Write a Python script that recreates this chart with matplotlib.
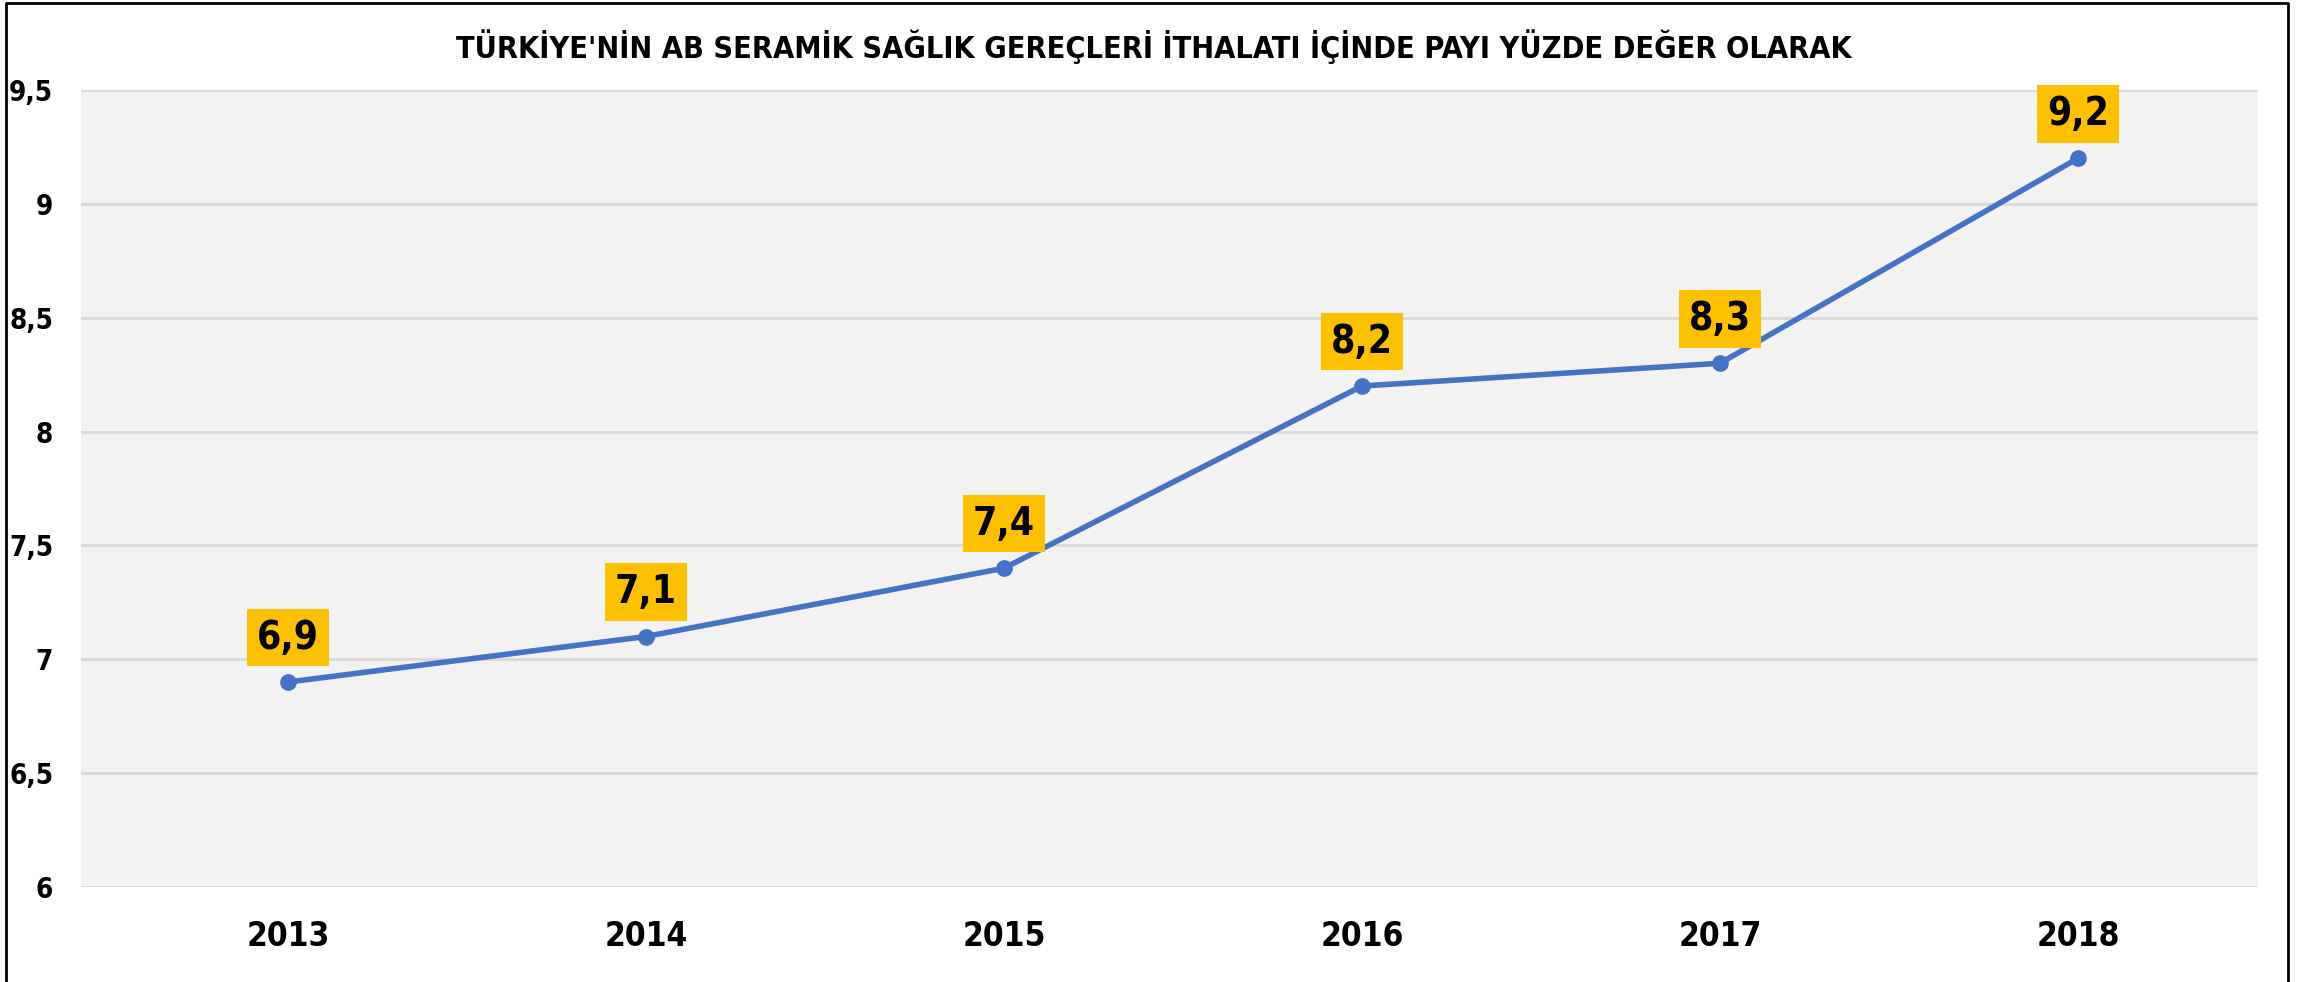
import matplotlib
matplotlib.use('Agg')
import matplotlib.pyplot as plt
from matplotlib.lines import Line2D

years = ['2013', '2014', '2015', '2016', '2017', '2018']
share = [6.9, 7.1, 7.4, 8.2, 8.3, 9.2]
yticks = [6, 6.5, 7, 7.5, 8, 8.5, 9, 9.5]
ytick_labels = ['6', '6,5', '7', '7,5', '8', '8,5', '9', '9,5']
title = "TÜRKİYE'NİN AB SERAMİK SAĞLIK GEREÇLERİ İTHALATI İÇİNDE PAYI YÜZDE DEĞER OLARAK"

plt.rcParams['font.family'] = ['DejaVu Sans']
plt.rcParams['font.stretch'] = 'condensed'
plt.rcParams['font.weight'] = 'bold'

fig = plt.figure(figsize=(23.08, 9.82), dpi=100)
ax = fig.add_axes([81/2308, 95/982, (2258-81)/2308, (887-90)/982])
ax.set_facecolor('#F2F2F2')

x = list(range(len(years)))
ax.plot(x, share, color='#4472C4', lw=4, marker='o', ms=11, zorder=3)

# data labels in yellow boxes
for xi, v in zip(x, share):
    ax.annotate(f'{v:.1f}'.replace('.', ','), (xi, v), xytext=(0, 32),
                textcoords='offset points', ha='center', va='center',
                fontsize=28, fontweight='bold', color='black',
                bbox=dict(boxstyle='square,pad=0.25', fc='#FFC000', ec='none'),
                zorder=4)

ax.set_xlim(-0.578, 5.503)
ax.set_ylim(6, 9.5)
ax.set_xticks(x)
ax.set_xticklabels(years, fontsize=24, fontweight='bold')
ax.set_yticks(yticks)
ax.set_yticklabels(ytick_labels, fontsize=20, fontweight='bold')
ax.tick_params(axis='both', length=0)
ax.tick_params(axis='y', pad=20)
ax.tick_params(axis='x', pad=24)
ax.grid(axis='y', color='#D9D9D9', lw=2)
ax.set_axisbelow(True)
for s in ax.spines.values():
    s.set_visible(False)

fig.text(0.5, 1 - 47/982, title, ha='center', va='center',
         fontsize=22, fontweight='bold')

# outer chart frame (left, top, right)
fx = [6/2308, 6/2308, 2288/2308, 2288/2308]
fy = [0, 1 - 3/982, 1 - 3/982, 0]
fig.add_artist(Line2D(fx, fy, color='black', lw=2, transform=fig.transFigure))

fig.savefig('out.png', dpi=100, facecolor='white')
